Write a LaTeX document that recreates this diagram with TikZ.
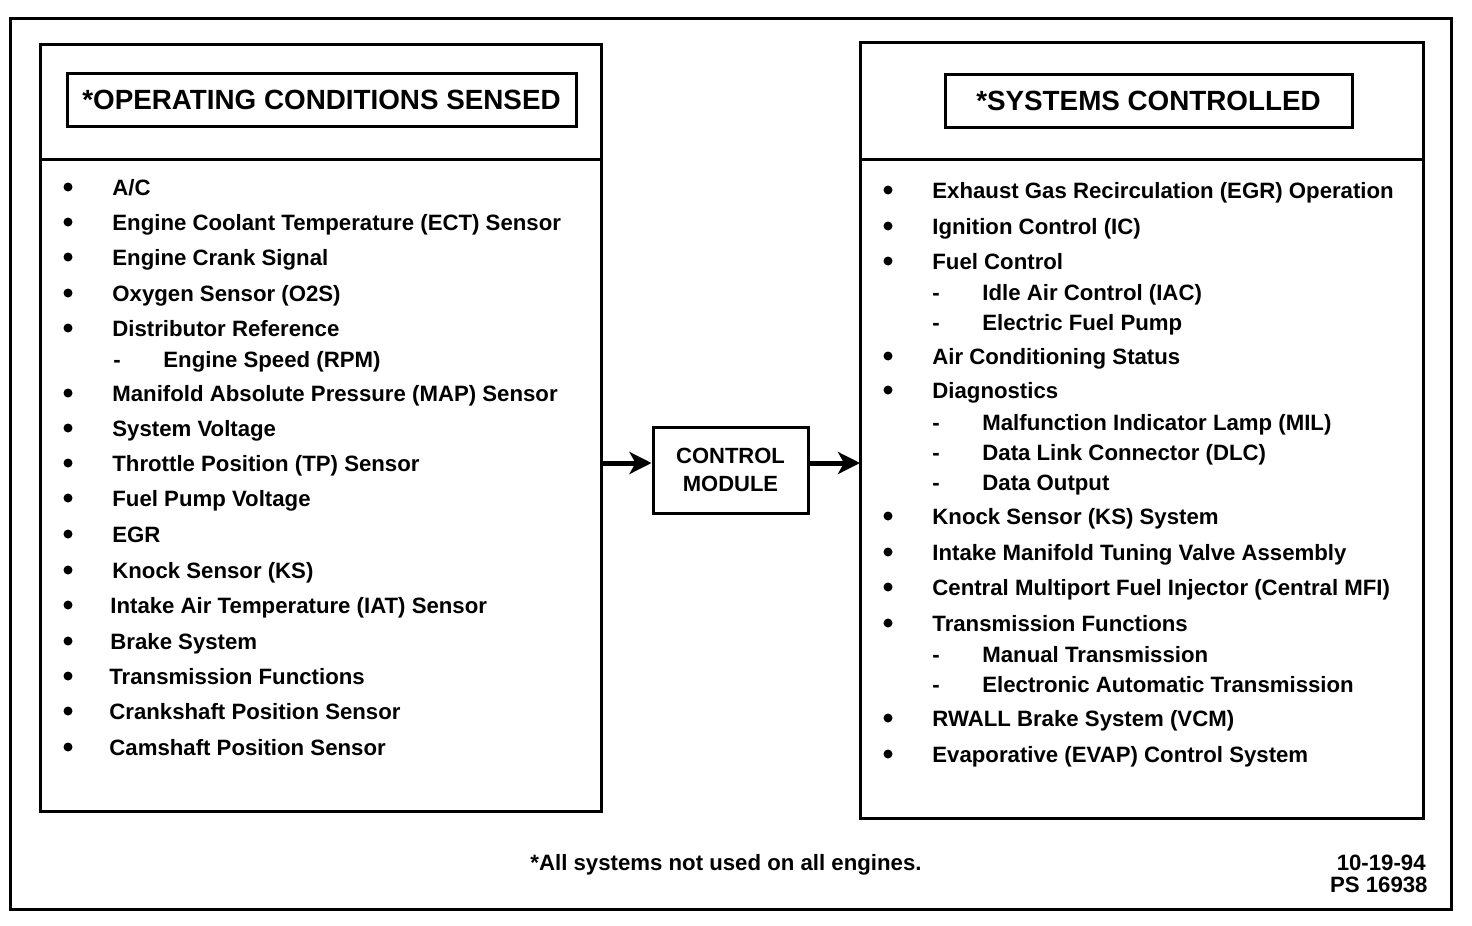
\documentclass[tikz,border=0pt]{standalone}
\usepackage{fontspec}
\setmainfont{Liberation Sans}
\usetikzlibrary{arrows.meta}
\begin{document}
\begin{tikzpicture}[x=0.5pt,y=-0.5pt,
  frame/.style={draw, line width=1.5pt},
  item/.style={anchor=base west, inner sep=0pt, font=\bfseries\fontsize{11.1}{13}\selectfont},
  ttl/.style={inner sep=0pt, font=\bfseries\fontsize{13.9}{16}\selectfont},
  bul/.style={circle, fill, inner sep=0pt, minimum size=4.5pt},
  dsh/.style={anchor=base, inner sep=0pt, font=\bfseries\fontsize{11.1}{13}\selectfont},
  conn/.style={line width=2.5pt, -{Stealth[length=11pt,width=11pt,inset=3pt]}}]
\useasboundingbox (0,0) rectangle (1472,926);
% outer frame
\draw[frame] (10,18) rectangle (1451,909);
% left panel
\node[frame, minimum width=280.5pt, minimum height=383.5pt, inner sep=0pt] (lbox) at (320.5,427.5) {};
\draw[frame] (40,159) -- (601,159);
\node[frame, minimum width=254.5pt, minimum height=26.5pt, inner sep=0pt] (ltitle) at (321.5,99.5) {};
\node[ttl] (lttext) at (321.5,99.5) {*OPERATING CONDITIONS SENSED};
% right panel
\node[frame, minimum width=281.5pt, minimum height=388pt, inner sep=0pt] (rbox) at (1141.5,430) {};
\draw[frame] (860,159) -- (1423,159);
\node[frame, minimum width=203.5pt, minimum height=26.5pt, inner sep=0pt] (rtitle) at (1148.5,100.5) {};
\node[ttl] (rttext) at (1148.5,100.5) {*SYSTEMS CONTROLLED};
% control module
\node[frame, minimum width=77.5pt, minimum height=43pt, inner sep=0pt, align=center,
      font=\bfseries\fontsize{11}{14}\selectfont] (cm) at (730.5,470) {CONTROL\\MODULE};
\coordinate (lout) at (601,463);
\coordinate (rin) at (860,463);
\draw[conn] (lout) -- (cm.west |- lout);
\draw[conn] (cm.east |- rin) -- (rin);
% left items
\foreach \t/\y/\tx [count=\i] in {
  {A/C}/187/112,
  Engine Coolant Temperature (ECT) Sensor/222/112,
  Engine Crank Signal/257/112,
  Oxygen Sensor (O2S)/293/112,
  Distributor Reference/328/112,
  Manifold Absolute Pressure (MAP) Sensor/393/112,
  System Voltage/428/112,
  Throttle Position (TP) Sensor/463/112,
  Fuel Pump Voltage/498/112,
  EGR/534/112,
  Knock Sensor (KS)/570/112,
  Intake Air Temperature (IAT) Sensor/605/110,
  Brake System/641/110,
  Transmission Functions/676/109,
  Crankshaft Position Sensor/711/109,
  Camshaft Position Sensor/747/109}{
  \node[bul] (lb\i) at (68,\y) {};
  \node[item] (lt\i) at (\tx,\y+8) {\t};
}
\node[dsh] (ld1) at (117,367) {-};
\node[item] (ls1) at (163,367) {Engine Speed (RPM)};
% right items
\foreach \t/\y [count=\i] in {
  Exhaust Gas Recirculation (EGR) Operation/190,
  Ignition Control (IC)/226,
  Fuel Control/261,
  Air Conditioning Status/356,
  Diagnostics/390,
  Knock Sensor (KS) System/516,
  Intake Manifold Tuning Valve Assembly/552,
  Central Multiport Fuel Injector (Central MFI)/587,
  Transmission Functions/623,
  RWALL Brake System (VCM)/718,
  Evaporative (EVAP) Control System/754}{
  \node[bul] (rb\i) at (888,\y) {};
  \node[item] (rt\i) at (932,\y+8) {\t};
}
\foreach \t/\y [count=\i] in {
  Idle Air Control (IAC)/292,
  Electric Fuel Pump/322,
  Malfunction Indicator Lamp (MIL)/422,
  Data Link Connector (DLC)/452,
  Data Output/482,
  Manual Transmission/654,
  Electronic Automatic Transmission/684}{
  \node[dsh] (rd\i) at (936,\y+8) {-};
  \node[item] (rs\i) at (982,\y+8) {\t};
}
% footer
\node[item, anchor=base] (note) at (726,870) {*All systems not used on all engines.};
\node[item, anchor=base east] (date) at (1426,870) {10-19-94};
\node[item, anchor=base east] (ps) at (1428,892) {PS 16938};
\end{tikzpicture}
\end{document}
